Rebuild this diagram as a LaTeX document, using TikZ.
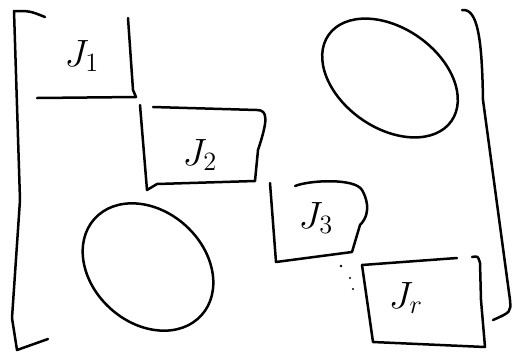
\documentclass[tikz,border=0pt]{standalone}
\usepackage{amsmath,amssymb}
\usepackage{graphicx}
\usepackage{xcolor}
\usepackage{tikz}
\newcommand{\blk}[1]{\scalebox{2.2}{$J_{#1}$}}
\tikzset{
  pen/.style={line width=2.5pt, line cap=round, line join=round},
  blocklabel/.style={font=\LARGE},
}
\begin{document}
\begin{tikzpicture}[x=1pt, y=-1pt]
        \useasboundingbox (0,0) rectangle (517,360);

        % outer brackets
        \draw[pen] (45,17) .. controls (30,11) .. (14,11) -- (20,200) -- (12,318) -- (17,350) -- (48,339);
        \draw[pen] (462,10) .. controls (478,8) and (482,40) .. (483,100) -- (510,300) .. controls (511,312) .. (493,320);

        % diagonal blocks
        \draw[pen] (128,18) -- (133,90) -- (136,97) -- (37,98);
        \draw[pen] (140,105) -- (147,190) -- (157,184) -- (255,181) -- (258,150) .. controls (268,120) and (268,110) .. (257,110) -- (153,107);
        \draw[pen] (270,183) -- (276,262) -- (352,252) -- (360,225) .. controls (373,212) and (365,195) .. (362,190) .. controls (355,178) and (310,180) .. (295,186);
        \draw[pen] (362,265) -- (373,342) -- (485,347) -- (481,300) -- (480,263) .. controls (478,256) .. (472,257);
        \draw[pen] (362,265) -- (457,258);

        \node[blocklabel] (j1) at (82,56) {\blk{1}};
        \node[blocklabel] (j2) at (200,155) {\blk{2}};
        \node[blocklabel] (j3) at (316,218) {\blk{3}};
        \node[blocklabel] (jr) at (406,298) {\blk{r}};

        % dots between J3 and Jr
        \fill (341,266) circle (1.4);
        \fill (350,278) circle (1.2);
        \fill (353,289) circle (1.2);

        % zero regions
        \draw[pen] [rotate around={-35:(390,78)}] (390,78) ellipse [x radius=75, y radius=50];
        \draw[pen] [rotate around={-42:(148,267)}] (148,267) ellipse [x radius=72, y radius=56];
    \end{tikzpicture}
\end{document}
